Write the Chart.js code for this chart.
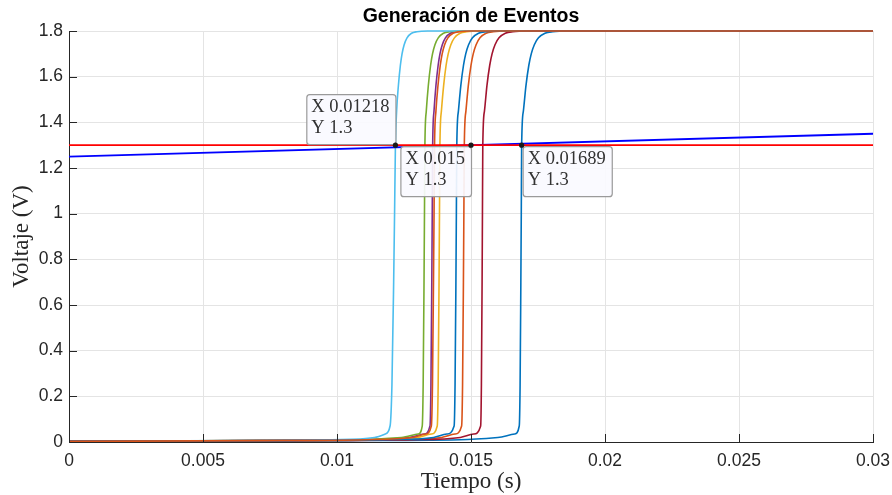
<!DOCTYPE html>
<html>
<head>
<meta charset="utf-8">
<script src="https://cdn.jsdelivr.net/npm/chart.js@4.4.1/dist/chart.umd.min.js"></script>
<style>
  html, body { margin: 0; padding: 0; background: #fff; }
</style>
</head>
<body>
<canvas id="chart" width="892" height="495"></canvas>
<script>
// voltage levels, and the time (s) at which each curve reaches them
const levels = [0.003, 0.006, 0.01, 0.02, 0.035, 0.07, 0.25, 0.7, 1.0,
                1.3, 1.45, 1.56, 1.65, 1.7, 1.74, 1.77, 1.79, 1.797, 1.8, 1.8];

const tBlue1   = [0, 0.0100, 0.0146, 0.0160, 0.01663, 0.01680, 0.016832, 0.01686, 0.016876,
                  0.01689, 0.016955, 0.01705, 0.017158, 0.017248, 0.017363, 0.017518, 0.01776, 0.01805, 0.01863, 0.03];
const tOrange1 = [0, 0.0080, 0.0122, 0.0139, 0.0144, 0.01465, 0.014685, 0.014717, 0.014734,
                  0.01475, 0.014811, 0.014899, 0.0150, 0.015083, 0.01519, 0.015335, 0.01556, 0.01583, 0.01637, 0.03];
const tYellow  = [0, 0.0074, 0.0113, 0.0130, 0.01352, 0.01374, 0.013775, 0.013807, 0.013824,
                  0.01384, 0.013896, 0.013978, 0.014071, 0.014149, 0.014248, 0.014381, 0.01459, 0.01484, 0.01534, 0.03];
const tPurple  = [0, 0.0071, 0.0110, 0.0127, 0.01325, 0.01347, 0.013505, 0.013537, 0.013554,
                  0.01357, 0.01362, 0.013691, 0.013774, 0.013842, 0.013929, 0.014046, 0.01423, 0.01445, 0.01489, 0.03];
const tGreen   = [0, 0.0069, 0.0107, 0.0124, 0.01303, 0.01318, 0.013215, 0.013247, 0.013264,
                  0.01328, 0.013332, 0.013407, 0.013493, 0.013564, 0.013655, 0.013778, 0.01397, 0.0142, 0.01466, 0.03];
const tCyan    = [0, 0.0065, 0.0098, 0.0114, 0.0118, 0.01198, 0.01205, 0.012114, 0.012148,
                  0.01218, 0.012225, 0.01229, 0.012365, 0.012427, 0.012506, 0.012613, 0.01278, 0.01298, 0.01338, 0.03];
const tMaroon  = [0, 0.0085, 0.0128, 0.0146, 0.0151, 0.01536, 0.015388, 0.015414, 0.015427,
                  0.01544, 0.015503, 0.015594, 0.015699, 0.015786, 0.015896, 0.016046, 0.01628, 0.01656, 0.01712, 0.03];
const tBlue2   = [0, 0.0078, 0.0119, 0.0136, 0.0141, 0.01437, 0.014405, 0.014437, 0.014454,
                  0.01447, 0.014531, 0.014619, 0.01472, 0.014803, 0.01491, 0.015055, 0.01528, 0.01555, 0.01609, 0.03];
const tOrange2 = [0, 0.0072, 0.0111, 0.0128, 0.0133, 0.01352, 0.013562, 0.0136, 0.013621,
                  0.01364, 0.013692, 0.013767, 0.013853, 0.013924, 0.014015, 0.014138, 0.01433, 0.01456, 0.01502, 0.03];

// threshold and reference ramp
const thresholdX = [0, 0.03];
const thresholdY = [1.3, 1.3];
const rampX = [0, 0.03];
const rampY = [1.25, 1.35];

// data tips
const tipX = [0.01218, 0.015, 0.01689];
const tipY = [1.3, 1.3, 1.3];
const tipLabelX = ['0.01218', '0.015', '0.01689'];
const tipLabelY = ['1.3', '1.3', '1.3'];

// ticks
const xTicks = [0, 0.005, 0.01, 0.015, 0.02, 0.025, 0.03];
const xTickLabels = ['0', '0.005', '0.01', '0.015', '0.02', '0.025', '0.03'];
const yTicks = [0, 0.2, 0.4, 0.6, 0.8, 1, 1.2, 1.4, 1.6, 1.8];
const yTickLabels = ['0', '0.2', '0.4', '0.6', '0.8', '1', '1.2', '1.4', '1.6', '1.8'];

const curves = [
  [tBlue1, '#0072BD'], [tOrange1, '#D95319'], [tYellow, '#EDB120'],
  [tPurple, '#7E2F8E'], [tGreen, '#77AC30'], [tCyan, '#4DBEEE'],
  [tMaroon, '#A2142F'], [tBlue2, '#0072BD'], [tOrange2, '#D95319']
];

const pts = (xs, ys) => xs.map((x, i) => ({ x: x, y: ys[i] }));

const datasets = curves.map((c, i) => ({
  data: pts(c[0], levels),
  borderColor: c[1],
  borderWidth: 1.6,
  pointRadius: 0,
  cubicInterpolationMode: 'monotone',
  clip: 3,
  order: 20 - i
}));
datasets.push({ data: pts(rampX, rampY), borderColor: '#0000FF', borderWidth: 1.8, pointRadius: 0, order: 2 });
datasets.push({ data: pts(thresholdX, thresholdY), borderColor: '#FF0000', borderWidth: 1.6, pointRadius: 0, order: 1 });

const ink = '#262626';

const decorations = {
  id: 'decorations',
  afterDraw(chart) {
    const { ctx, chartArea: a, scales: { x, y } } = chart;
    ctx.save();
    // inward tick marks
    ctx.strokeStyle = ink;
    ctx.lineWidth = 1;
    ctx.beginPath();
    xTicks.forEach(v => {
      const px = Math.round(x.getPixelForValue(v)) + 0.5;
      ctx.moveTo(px, a.bottom); ctx.lineTo(px, a.bottom - 8);
    });
    yTicks.forEach(v => {
      const py = Math.round(y.getPixelForValue(v)) + 0.5;
      ctx.moveTo(a.left, py); ctx.lineTo(a.left + 8, py);
    });
    ctx.stroke();

    // title and axis titles
    const cx = (a.left + a.right) / 2;
    ctx.fillStyle = '#000';
    ctx.textAlign = 'center';
    ctx.textBaseline = 'middle';
    ctx.font = 'bold 19.5px "Liberation Sans", Arial, sans-serif';
    ctx.fillText('Generación de Eventos', cx, 17);
    ctx.fillStyle = ink;
    ctx.font = '23px "Liberation Serif", "DejaVu Serif", serif';
    ctx.fillText('Tiempo (s)', cx, 482);
    ctx.save();
    ctx.translate(22, (a.top + a.bottom) / 2);
    ctx.rotate(-Math.PI / 2);
    ctx.fillText('Voltaje (V)', 0, 0);
    ctx.restore();

    // data tips
    const place = ['nw', 'sw', 'se'];
    ctx.font = '18.5px "Liberation Serif", "DejaVu Serif", serif';
    tipX.forEach((v, i) => {
      const px = x.getPixelForValue(v);
      const py = y.getPixelForValue(tipY[i]);
      const l1 = 'X ' + tipLabelX[i];
      const l2 = 'Y ' + tipLabelY[i];
      const w = Math.max(ctx.measureText(l1).width, ctx.measureText(l2).width) + 11;
      const h = 50;
      const bx = place[i].includes('w') ? px - w : px + 1;
      const by = place[i].includes('n') ? py - h - 1 : py + 1;
      ctx.fillStyle = 'rgba(250,250,255,0.92)';
      ctx.strokeStyle = '#9a9a9a';
      ctx.lineWidth = 1.2;
      ctx.beginPath();
      ctx.roundRect(bx + 0.5, by + 0.5, w, h, 3);
      ctx.fill();
      ctx.stroke();
      ctx.fillStyle = '#333';
      ctx.textAlign = 'left';
      ctx.textBaseline = 'middle';
      ctx.fillText(l1, bx + 5, by + 13);
      ctx.fillText(l2, bx + 5, by + 34);
      ctx.fillStyle = '#1a1a1a';
      ctx.beginPath();
      ctx.arc(px, py, 2.6, 0, Math.PI * 2);
      ctx.fill();
    });
    ctx.restore();
  }
};

new Chart(document.getElementById('chart').getContext('2d'), {
  type: 'line',
  data: { datasets: datasets },
  options: {
    responsive: false,
    animation: false,
    devicePixelRatio: 1,
    layout: { padding: { top: 31, right: 19, left: 0, bottom: 0 } },
    plugins: { legend: { display: false }, tooltip: { enabled: false } },
    scales: {
      x: {
        type: 'linear',
        min: 0,
        max: 0.03,
        afterFit: s => { s.height = 53; s.paddingLeft = 0; s.paddingRight = 0; },
        afterBuildTicks: s => { s.ticks = xTicks.map(v => ({ value: v })); },
        grid: { color: '#e4e4e4', drawTicks: false },
        border: { color: ink, width: 1 },
        ticks: {
          padding: 9,
          maxRotation: 0,
          autoSkip: false,
          color: ink,
          font: { family: '"Liberation Sans", Arial, sans-serif', size: 17.5 },
          callback: v => xTickLabels[xTicks.indexOf(v)]
        }
      },
      y: {
        min: 0,
        max: 1.8,
        afterFit: s => { s.width = 69; s.paddingTop = 0; s.paddingBottom = 0; },
        afterBuildTicks: s => { s.ticks = yTicks.map(v => ({ value: v })); },
        grid: { color: '#e4e4e4', drawTicks: false },
        border: { color: ink, width: 1 },
        ticks: {
          padding: 6,
          autoSkip: false,
          color: ink,
          font: { family: '"Liberation Sans", Arial, sans-serif', size: 17.5 },
          callback: v => yTickLabels[yTicks.indexOf(v)]
        }
      }
    }
  },
  plugins: [decorations]
});
</script>
</body>
</html>
